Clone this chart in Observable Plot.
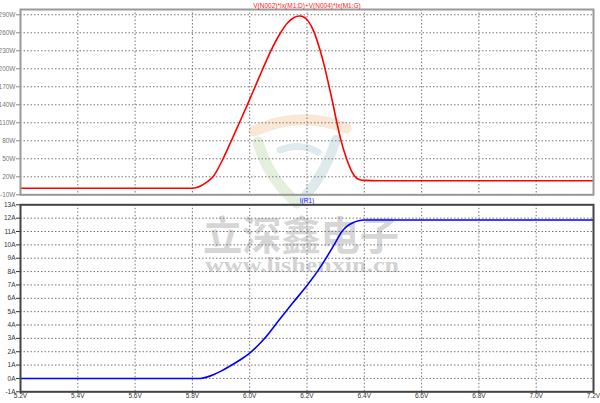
<!DOCTYPE html>
<html><head><meta charset="utf-8">
<script src="https://cdn.jsdelivr.net/npm/d3@7"></script>
<script src="https://cdn.jsdelivr.net/npm/@observablehq/plot@0.6"></script>
<style>
body{margin:0;background:#fff;}
#wrap{position:relative;width:600px;height:403px;overflow:hidden;background:#fff;}
.layer{position:absolute;left:0;}
</style></head><body><div id="wrap"></div>
<script>
// ---- data ----
const xTicks = [5.2, 5.4, 5.6, 5.8, 6.0, 6.2, 6.4, 6.6, 6.8, 7.0, 7.2];
const powerTicks = [-10, 20, 50, 80, 110, 140, 170, 200, 230, 260, 290];
const currentTicks = [-1, 0, 1, 2, 3, 4, 5, 6, 7, 8, 9, 10, 11, 12, 13];

const powerV = [5.2, 5.5, 5.80, 5.815, 5.83, 5.85, 5.872, 5.905, 5.934, 5.962, 5.991, 6.017, 6.044, 6.073, 6.105, 6.131, 6.155, 6.174, 6.19, 6.205, 6.224, 6.245, 6.262, 6.276, 6.290, 6.303, 6.318, 6.338, 6.355, 6.37, 6.385, 6.40, 6.45, 7.2];
const powerW = [1, 1, 1, 2, 5, 11, 20, 48, 78, 108, 139, 168, 198, 229, 258, 276, 285.5, 288, 286, 279, 262, 232, 202, 173, 143, 113, 82, 50, 30, 19, 15, 14, 13.5, 13.5];

const currentV = [5.2, 5.5, 5.828, 5.85, 5.875, 5.9, 5.933, 5.966, 6.0, 6.05, 6.1, 6.15, 6.2, 6.25, 6.3, 6.32, 6.34, 6.36, 6.38, 6.4, 7.2];
const currentA = [0, 0, 0, 0.1, 0.3, 0.55, 0.95, 1.38, 1.9, 2.95, 4.3, 5.65, 6.95, 8.45, 10.2, 10.95, 11.4, 11.65, 11.8, 11.86, 11.86];

const powerTitle = "V(N002)*Ix(M1:D)+V(N004)*Ix(M1:G)";
const currentTitle = "I(R1)";
const watermarkCN = "立深鑫电子";
const watermarkURL = "www.lishenxin.cn";

const powerData = powerV.map((v, i) => ({v, w: powerW[i]}));
const currentData = currentV.map((v, i) => ({v, a: currentA[i]}));

const wrap = document.getElementById("wrap");

// ---- watermark layer (behind) ----
const wm = d3.create("svg").attr("class", "layer").attr("width", 600).attr("height", 403).style("top", "0px");
wm.append("path").attr("d", "M254,131 Q300,110 346,128").attr("fill", "none").attr("stroke", "#fae7d6").attr("stroke-width", 11).attr("stroke-linecap", "round");
wm.append("path").attr("d", "M258,142 Q268,178 297,203").attr("fill", "none").attr("stroke", "#e4efdd").attr("stroke-width", 11).attr("stroke-linecap", "round");
wm.append("path").attr("d", "M336,140 Q326,172 304,198").attr("fill", "none").attr("stroke", "#dde9eb").attr("stroke-width", 10).attr("stroke-linecap", "round");
wm.append("path").attr("d", "M280,150 Q300,142 318,152").attr("fill", "none").attr("stroke", "#dfeaee").attr("stroke-width", 7).attr("stroke-linecap", "round");
wm.append("text").text(watermarkCN).attr("x", 203).attr("y", 250).attr("textLength", 196).attr("lengthAdjust", "spacingAndGlyphs")
  .attr("font-family", "'Noto Sans CJK SC', sans-serif").attr("font-weight", 700).attr("font-size", 40).attr("fill", "#d6d6d6");
wm.append("text").text(watermarkURL).attr("x", 205).attr("y", 272).attr("textLength", 194).attr("lengthAdjust", "spacingAndGlyphs")
  .attr("font-family", "'Liberation Serif', 'DejaVu Serif', serif").attr("font-weight", 700).attr("font-size", 20).attr("fill", "#d2d2d2");
wrap.appendChild(wm.node());

const font = "'Liberation Sans Narrow', 'Liberation Sans', Arial, sans-serif";

// ---- top panel ----
const topPlot = Plot.plot({
  width: 600, height: 200,
  marginLeft: 20, marginRight: 7, marginTop: 9, marginBottom: 5.7,
  style: {background: "transparent", fontFamily: font, fontSize: "6.5px"},
  x: {domain: [5.2, 7.2], axis: null},
  y: {domain: [-10, 298.8], axis: null},
  marks: [
    Plot.gridX(xTicks, {stroke: "#777", strokeOpacity: 1, strokeDasharray: "1.5,2"}),
    Plot.gridY(powerTicks, {stroke: "#777", strokeOpacity: 1, strokeDasharray: "1.5,2"}),
    Plot.axisY({ticks: powerTicks, tickFormat: d => d + "W", tickSize: 4, tickPadding: 1, label: null, color: "#777", stroke: "#888"}),
    Plot.line(powerData, {x: "v", y: "w", stroke: "#ff0000", strokeWidth: 1.6, curve: "monotone-x"}),
    Plot.frame({stroke: "#999", strokeWidth: 2}),
    Plot.text([powerTitle], {text: d => d, frameAnchor: "top", lineAnchor: "bottom", dy: -2, fill: "#ff2020"})
  ]
});
topPlot.classList.add("layer");
topPlot.style.top = "0px";
wrap.appendChild(topPlot);

// ---- bottom panel ----
const botPlot = Plot.plot({
  width: 600, height: 209,
  marginLeft: 20, marginRight: 7, marginTop: 10.3, marginBottom: 11.7,
  style: {background: "transparent", fontFamily: font, fontSize: "6.5px"},
  x: {domain: [5.2, 7.2], axis: null},
  y: {domain: [-1, 13], axis: null},
  marks: [
    Plot.gridX(xTicks, {stroke: "#777", strokeOpacity: 1, strokeDasharray: "1.5,2"}),
    Plot.gridY(currentTicks, {stroke: "#777", strokeOpacity: 1, strokeDasharray: "1.5,2"}),
    Plot.axisX({ticks: xTicks, tickFormat: d => d.toFixed(1) + "V", tickSize: 2, tickPadding: 0, label: null, color: "#333", stroke: "#333"}),
    Plot.axisY({ticks: currentTicks, tickFormat: d => d + "A", tickSize: 4, tickPadding: 1, label: null, color: "#333", stroke: "#333"}),
    Plot.line(currentData, {x: "v", y: "a", stroke: "#0000ff", strokeWidth: 1.6, curve: "monotone-x"}),
    Plot.frame({stroke: "#444", strokeWidth: 2}),
    Plot.text([currentTitle], {text: d => d, frameAnchor: "top", lineAnchor: "bottom", dy: -2, fill: "#2020ff"})
  ]
});
botPlot.classList.add("layer");
botPlot.style.top = "194px";
wrap.appendChild(botPlot);
</script>
</body></html>
